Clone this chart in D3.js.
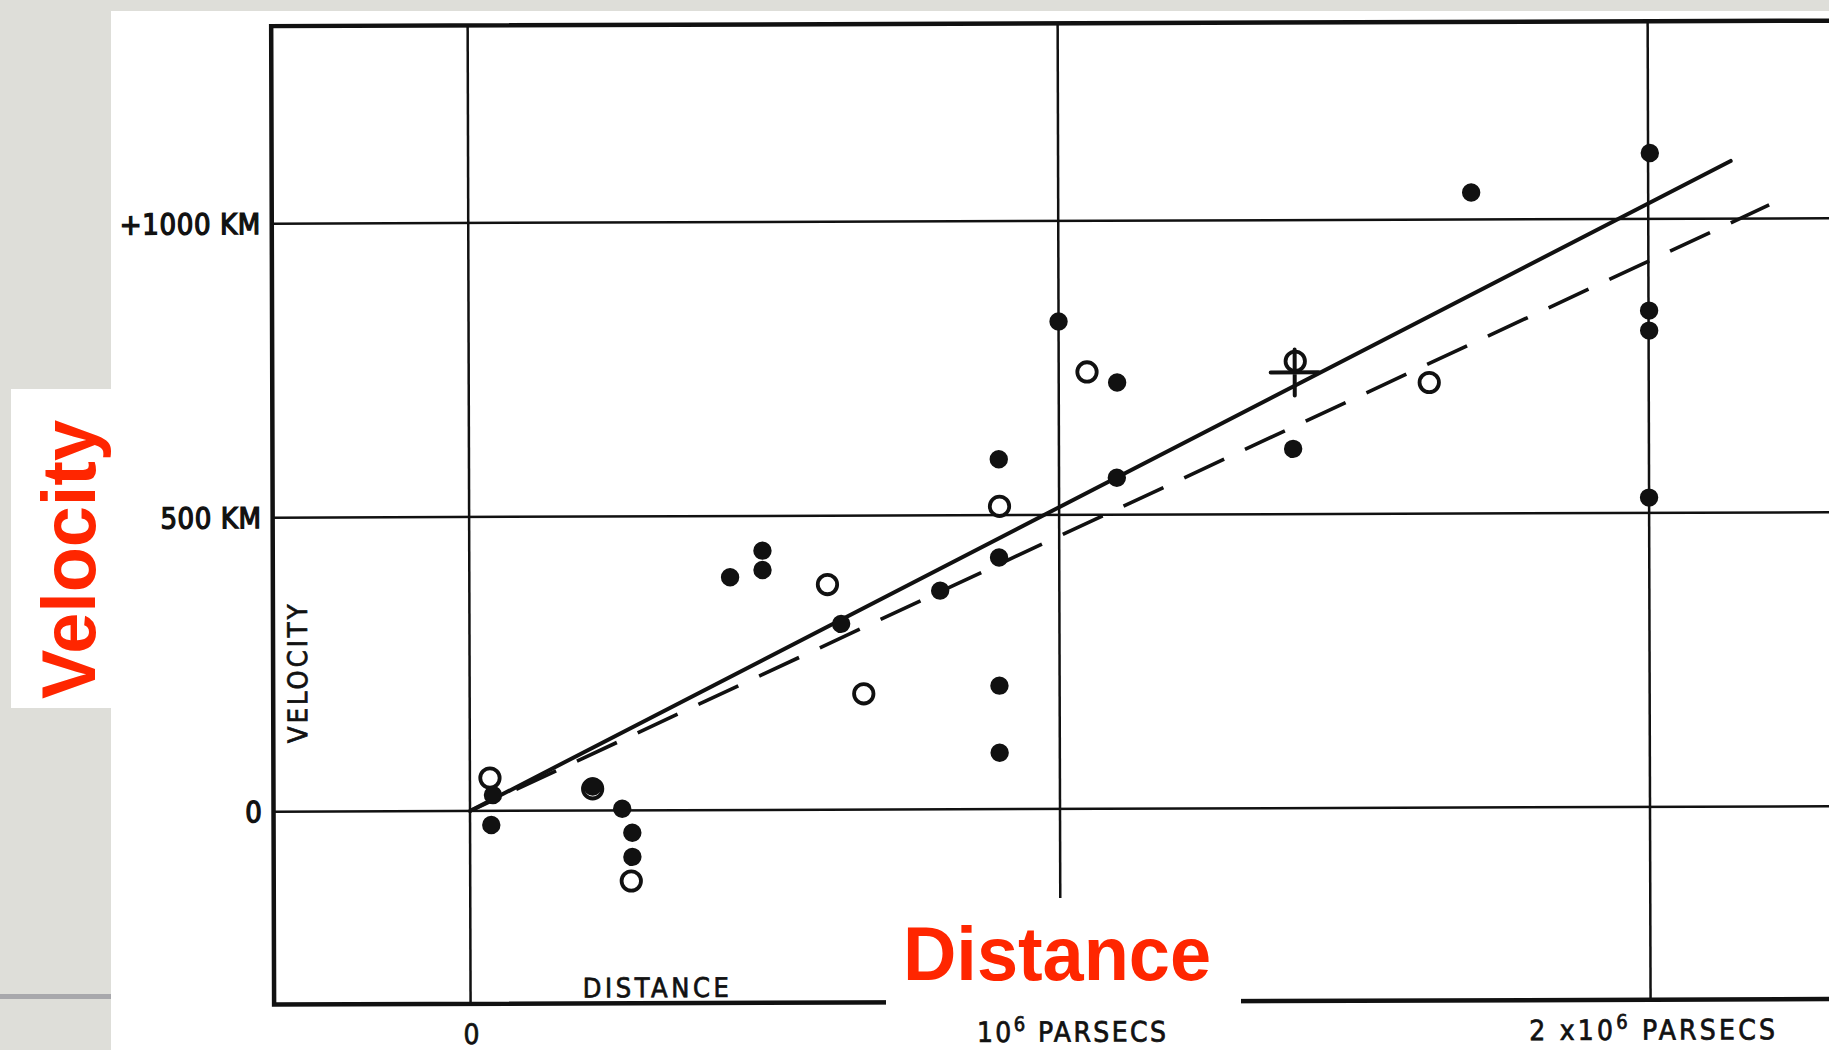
<!DOCTYPE html>
<html>
<head>
<meta charset="utf-8">
<script src="https://cdn.jsdelivr.net/npm/d3@7"></script>
<style>
	html, body { margin: 0; padding: 0; background: #deded9; }
	svg { display: block; }
	.hand { font-family: 'DejaVu Sans Condensed', 'DejaVu Sans', sans-serif; font-stretch: condensed; fill: #111; stroke: #111; }
	.note { font-family: 'Liberation Sans', Arial, Helvetica, sans-serif; font-weight: bold; fill: #ff2600; }
</style>
</head>
<body>
<div id="chart"></div>
<script>
// distance in 10^6 parsecs, velocity in km/s
const nebulae = [
	[0.039, 27], [0.036, -24], [0.208, 41], [0.258, 3], [0.275, -38], [0.275, -79],
	[0.442, 396], [0.497, 441], [0.497, 408], [0.630, 316], [0.798, 372],
	[0.898, 595], [0.898, 428], [0.898, 210], [0.898, 96],
	[1.000, 829], [1.099, 725], [1.098, 563],
	[1.397, 611], [1.700, 1046],
	[2.003, 1112], [2.001, 844], [2.001, 810], [2.000, 526]
];
const groups = [
	[0.034, 56], [0.208, 37], [0.273, -120], [0.607, 383], [0.668, 197],
	[0.899, 515], [1.048, 743], [1.401, 760], [1.628, 723]
];
const meanOf22 = [[1.400, 741]];

const individualFit = [[0, 0], [2.14, 1098]];
const groupFit = [[0, 0], [2.205, 1023]];

const xTicks = [0, 1, 2];
const xTickLabels = [['0', '', ''], ['10', '6', ' PARSECS'], ['2 x10', '6', ' PARSECS']];
const yTicks = [0, 500, 1000];
const yTickLabels = ['0', '500 KM', '+1000 KM'];
const frameDist = [-0.333, 2.6];
const frameVel = [-328, 1336];

const W = 1829, H = 1050;
const ink = '#111';

const svg = d3.select('#chart').append('svg')
	.attr('width', W)
	.attr('height', H);

// slide background and the white scan
svg.append('rect').attr('width', W).attr('height', H).attr('fill', '#deded9');
svg.append('rect').attr('x', 111).attr('y', 11).attr('width', W - 111).attr('height', H - 11).attr('fill', '#fff');
svg.append('rect').attr('x', 0).attr('y', 994).attr('width', 111).attr('height', 5).attr('fill', '#a8a8ac');

const x = d3.scaleLinear().domain([0, 2]).range([470, 1650]);
const y = d3.scaleLinear().domain([0, 1000]).range([811, 223]);

// the scan is a little skewed
const plot = svg.append('g')
	.attr('transform', `translate(${x(0)},${y(0)}) matrix(1,-0.0035,0.003,1,0,0) translate(${-x(0)},${-y(0)})`);

plot.append('g').selectAll('line')
	.data(xTicks)
	.join('line')
	.attr('x1', d => x(d)).attr('x2', d => x(d))
	.attr('y1', y(frameVel[1])).attr('y2', y(frameVel[0]))
	.attr('stroke', ink).attr('stroke-width', 2.5);

plot.append('g').selectAll('line')
	.data(yTicks)
	.join('line')
	.attr('x1', x(frameDist[0])).attr('x2', x(frameDist[1]))
	.attr('y1', d => y(d)).attr('y2', d => y(d))
	.attr('stroke', ink).attr('stroke-width', 2.5);

plot.append('path')
	.attr('d', `M${x(frameDist[1])},${y(frameVel[1])}L${x(frameDist[0])},${y(frameVel[1])}` +
		`L${x(frameDist[0])},${y(frameVel[0])}L${x(frameDist[1])},${y(frameVel[0])}`)
	.attr('fill', 'none').attr('stroke', ink).attr('stroke-width', 4.5);

const line = d3.line().x(d => x(d[0])).y(d => y(d[1]));

plot.append('path')
	.attr('d', line(individualFit))
	.attr('fill', 'none').attr('stroke', ink).attr('stroke-width', 4)
	.attr('stroke-linecap', 'round');

plot.append('path')
	.attr('d', line(groupFit))
	.attr('fill', 'none').attr('stroke', ink).attr('stroke-width', 3.6)
	.attr('stroke-dasharray', '44,23').attr('stroke-dashoffset', 16);

plot.append('g').selectAll('circle')
	.data(groups)
	.join('circle')
	.attr('cx', d => x(d[0])).attr('cy', d => y(d[1]))
	.attr('r', 9.7)
	.attr('fill', '#fff').attr('stroke', ink).attr('stroke-width', 3.8);

plot.append('g').selectAll('circle')
	.data(nebulae)
	.join('circle')
	.attr('cx', d => x(d[0])).attr('cy', d => y(d[1]))
	.attr('r', 9.2)
	.attr('fill', ink);

plot.append('g').selectAll('path')
	.data(meanOf22)
	.join('path')
	.attr('d', d => `M${x(d[0]) - 24},${y(d[1])}h48M${x(d[0])},${y(d[1]) - 23}v46`)
	.attr('stroke', ink).attr('stroke-width', 4).attr('stroke-linecap', 'round');

// hand lettering
plot.append('g').selectAll('text')
	.data(yTicks)
	.join('text')
	.attr('class', 'hand')
	.attr('x', x(frameDist[0]) - 11)
	.attr('y', d => y(d))
	.attr('dy', '0.36em')
	.attr('text-anchor', 'end')
	.attr('font-size', 29)
	.attr('letter-spacing', 0.6)
	.attr('stroke-width', 1.3)
	.text((d, i) => yTickLabels[i]);

const xLab = plot.append('g').selectAll('text')
	.data(xTicks)
	.join('text')
	.attr('class', 'hand')
	.attr('x', (d, i) => x(d) + [2, 12, 3][i])
	.attr('y', y(frameVel[0]) + 40)
	.attr('text-anchor', 'middle')
	.attr('font-size', 28)
	.attr('stroke-width', 0.7)
	.attr('letter-spacing', (d, i) => [2.4, 2.4, 3.2][i]);
xLab.append('tspan').text((d, i) => xTickLabels[i][0]);
xLab.append('tspan').attr('font-size', 20).attr('dy', -11).text((d, i) => xTickLabels[i][1]);
xLab.append('tspan').attr('dy', 11).text((d, i) => xTickLabels[i][2]);

plot.append('text')
	.attr('class', 'hand')
	.attr('x', x(0.19))
	.attr('y', y(frameVel[0]) - 6)
	.attr('font-size', 27)
	.attr('stroke-width', 0.7)
	.attr('letter-spacing', 3.6)
	.text('DISTANCE');

plot.append('text')
	.attr('class', 'hand')
	.attr('transform', `translate(${x(frameDist[0]) + 34},${y(237)}) rotate(-90)`)
	.attr('text-anchor', 'middle')
	.attr('font-size', 27)
	.attr('stroke-width', 0.7)
	.attr('letter-spacing', 3)
	.text('VELOCITY');

// red slide annotations
svg.append('rect').attr('x', 11).attr('y', 389).attr('width', 100).attr('height', 319).attr('fill', '#fff');
svg.append('text')
	.attr('class', 'note')
	.attr('transform', 'translate(95,699) rotate(-90)')
	.attr('font-size', 76)
	.attr('textLength', 279).attr('lengthAdjust', 'spacingAndGlyphs')
	.text('Velocity');

svg.append('rect').attr('x', 886).attr('y', 898).attr('width', 355).attr('height', 110).attr('fill', '#fff');
svg.append('text')
	.attr('class', 'note')
	.attr('x', 903).attr('y', 980)
	.attr('font-size', 76)
	.attr('textLength', 308).attr('lengthAdjust', 'spacingAndGlyphs')
	.text('Distance');
</script>
</body>
</html>
